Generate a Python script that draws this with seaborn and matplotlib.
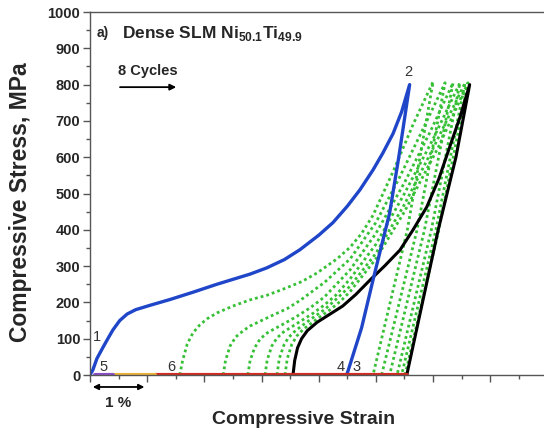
import numpy as np
import pandas as pd
import matplotlib
matplotlib.use("Agg")
import matplotlib.pyplot as plt
import seaborn as sns

# 压缩循环数据 (应变 %, 应力 MPa)
blue_strain = [0.0, 0.05, 0.12, 0.23, 0.33, 0.40, 0.52, 0.65, 0.80, 1.05, 1.40, 1.80, 2.22, 2.80,
               3.09, 3.40, 3.67, 4.00, 4.25, 4.50, 4.72, 4.95, 5.12, 5.30, 5.45, 5.59,
               5.40, 5.24, 4.95, 4.75, 4.49]
blue_stress = [0, 14, 45, 77, 105, 124, 150, 168, 180, 192, 208, 228, 250, 278,
               295, 318, 345, 385, 420, 465, 510, 565, 611, 665, 725, 800,
               600, 446, 262, 130, 0]

black_strain = [3.55, 3.58, 3.63, 3.70, 3.80, 3.97, 4.20, 4.42, 4.65, 4.90, 5.15, 5.42, 5.65,
                5.89, 6.10, 6.29, 6.47, 6.64,
                6.40, 6.09, 5.54]
black_stress = [0, 40, 75, 100, 122, 145, 168, 190, 222, 262, 300, 344, 400,
                463, 540, 628, 710, 800,
                600, 400, 0]

g1_strain = [1.57, 1.62, 1.70, 1.80, 1.92, 2.05, 2.22, 2.50, 2.80, 3.10, 3.37, 3.70, 3.97, 4.32,
             4.55, 4.75, 4.95, 5.30, 5.65, 6.00,
             5.55, 4.95]
g1_stress = [0, 40, 85, 116, 138, 155, 171, 190, 207, 220, 236, 257, 281, 320,
             352, 390, 440, 560, 690, 808,
             400, 0]
g2_strain = [2.33, 2.37, 2.45, 2.55, 2.68, 2.80, 3.00, 3.20, 3.45, 3.67, 4.10, 4.55, 5.00, 5.40,
             5.80, 6.21,
             5.72, 5.10]
g2_stress = [0, 40, 80, 105, 122, 135, 150, 165, 183, 205, 255, 320, 420, 540,
             670, 805,
             400, 0]
g3_strain = [2.76, 2.80, 2.88, 2.97, 3.08, 3.20, 3.40, 3.60, 3.85, 4.10, 4.55, 5.00, 5.50,
             5.95, 6.35,
             5.85, 5.24]
g3_stress = [0, 40, 75, 98, 114, 125, 142, 160, 185, 215, 290, 390, 530,
             670, 805,
             400, 0]
g4_strain = [3.06, 3.10, 3.18, 3.27, 3.38, 3.50, 3.70, 3.90, 4.10, 4.30, 4.55, 5.00, 5.50,
             6.00, 6.47,
             5.97, 5.37]
g4_stress = [0, 42, 80, 102, 118, 130, 150, 170, 193, 220, 265, 360, 500,
             650, 805,
             400, 0]
g5_strain = [3.27, 3.31, 3.39, 3.47, 3.58, 3.70, 3.90, 4.10, 4.30, 4.55, 5.00, 5.50, 6.05, 6.56,
             6.05, 5.45]
g5_stress = [0, 45, 82, 103, 120, 135, 158, 180, 208, 245, 335, 470, 640, 805,
             400, 0]
g6_strain = [3.41, 3.45, 3.53, 3.62, 3.73, 3.85, 4.02, 4.20, 4.38, 4.55, 5.00, 5.50, 6.10, 6.61,
             6.10, 5.51]
g6_stress = [0, 45, 85, 108, 126, 140, 160, 180, 203, 230, 320, 450, 630, 805,
             400, 0]

green_cycles = [(g1_strain, g1_stress), (g2_strain, g2_stress), (g3_strain, g3_stress),
                (g4_strain, g4_stress), (g5_strain, g5_stress), (g6_strain, g6_stress)]

# 加热回复段 (应力为 0)
purple_seg = [0.09, 0.40]
orange_seg = [0.40, 1.14]
red_seg = [1.14, 5.54]

# 点标签
point_labels = ["1", "2", "3", "4", "5", "6"]
label_x = [0.12, 5.57, 4.67, 4.39, 0.23, 1.43]
label_y = [105, 835, 22, 22, 22, 22]

sns.set_style("ticks")
plt.rcParams['font.family'] = ['Liberation Sans', 'DejaVu Sans']
plt.rcParams['mathtext.fontset'] = 'custom'
plt.rcParams['mathtext.rm'] = 'Liberation Sans'
plt.rcParams['mathtext.bf'] = 'Liberation Sans:bold'

fig = plt.figure(figsize=(5.44, 4.40), dpi=100)
ax = fig.add_axes([90 / 544, 65 / 440, 454 / 544, 363 / 440])

for s, p in green_cycles:
    d = pd.DataFrame({"strain": s, "stress": p})
    sns.lineplot(data=d, x="strain", y="stress", sort=False, estimator=None, ax=ax,
                 color="#35c035", lw=2.0, ls=(0, (1, 1.1)))

d = pd.DataFrame({"strain": black_strain, "stress": black_stress})
sns.lineplot(data=d, x="strain", y="stress", sort=False, estimator=None, ax=ax,
             color="black", lw=2.2)
d = pd.DataFrame({"strain": blue_strain, "stress": blue_stress})
sns.lineplot(data=d, x="strain", y="stress", sort=False, estimator=None, ax=ax,
             color="#1f45c8", lw=2.4)

for seg, c in [(red_seg, "#d42a22"), (orange_seg, "#eeb43a"), (purple_seg, "#8a4fc8")]:
    sns.lineplot(x=seg, y=[0, 0], ax=ax, color=c, lw=3, estimator=None)

for t, x, y in zip(point_labels, label_x, label_y):
    ax.text(x, y, t, ha="center", va="center", fontsize=10.5, color="#333333")

ax.text(0.015, 0.942, "a)", transform=ax.transAxes, fontsize=10, fontweight="bold",
        va="center")
ax.text(0.07, 0.942, r"Dense SLM Ni$_{\mathbf{50.1}}$Ti$_{\mathbf{49.9}}$", transform=ax.transAxes,
        fontsize=12.5, fontweight="bold", va="center")
ax.text(0.062, 0.838, "8 Cycles", transform=ax.transAxes, fontsize=10.5, fontweight="bold",
        va="center")
ax.annotate("", xy=(0.196, 0.793), xytext=(0.06, 0.793), xycoords="axes fraction",
            arrowprops=dict(arrowstyle="-|>", color="black", lw=1.3, mutation_scale=9))

# 1 % 标尺
ax.annotate("", xy=(0.0, -0.033), xytext=(1.0, -0.033),
            xycoords=("data", "axes fraction"), annotation_clip=False,
            arrowprops=dict(arrowstyle="<|-|>", color="black", lw=1.3, mutation_scale=8))
ax.text(0.5, -0.077, "1 %", transform=ax.get_xaxis_transform(), ha="center", va="center",
        fontsize=11, fontweight="bold")

ax.set_xlim(0, 7.94)
ax.set_ylim(0, 1000)
ax.set_xticks(np.arange(0, 8, 1.0))
ax.set_xticks(np.arange(0.5, 8, 1.0), minor=True)
ax.set_yticks(np.arange(0, 1001, 100))
ax.set_yticks(np.arange(50, 1000, 100), minor=True)
ax.set_xticklabels([])
ax.tick_params(axis="y", labelsize=10.5, length=5, width=1, color="#555555", pad=2)
ax.tick_params(axis="x", length=5, width=1, color="#555555")
ax.tick_params(which="minor", length=3, width=1, color="#555555")
for lbl in ax.get_yticklabels():
    lbl.set_fontweight("bold")

for side in ["left", "bottom", "top"]:
    ax.spines[side].set_color("#555555")
    ax.spines[side].set_linewidth(1)
ax.spines["right"].set_visible(False)

ax.set_ylabel("Compressive Stress, MPa", fontsize=16.5, fontweight="bold")
ax.yaxis.set_label_coords(-0.128, 0.475)
ax.set_xlabel("Compressive Strain", fontsize=14, fontweight="bold")
ax.xaxis.set_label_coords(0.47, -0.1)

fig.savefig("out.png", dpi=100)
